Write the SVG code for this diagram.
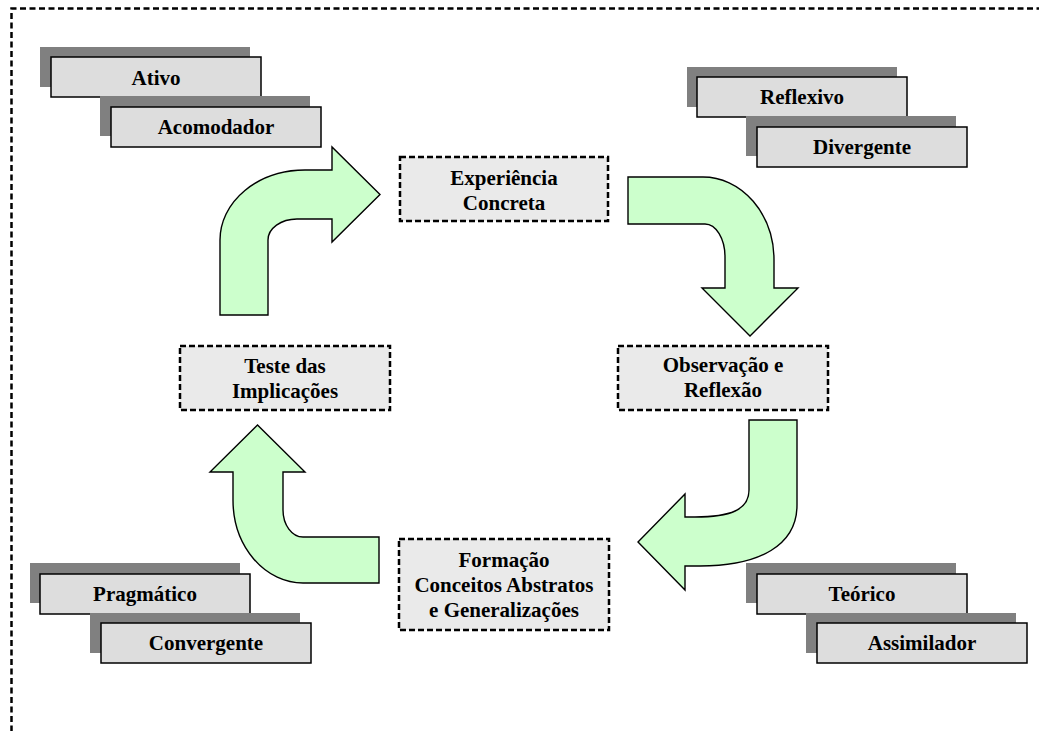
<svg xmlns="http://www.w3.org/2000/svg" width="1039" height="731" viewBox="0 0 1039 731">
<style>
.t{font-family:"Liberation Serif","Times New Roman",serif;font-weight:bold;font-size:21px;fill:#000;text-anchor:middle}
.sh{fill:#808080}
.bx{fill:#dddddd;stroke:#000;stroke-width:1.5}
.nd{fill:#eaeaea;stroke:#000;stroke-width:2.5;stroke-dasharray:6 3}
.ar{fill:#ccffcc;stroke:#000;stroke-width:1.4;stroke-linejoin:miter}
</style>
<rect width="1039" height="731" fill="#fff"/>
<path d="M11.5,760 L11.5,8.5 L1060,8.5" fill="none" stroke="#000" stroke-width="2.5" stroke-dasharray="6 3.5"/>

<g id="style-ativo">
<rect class="sh" x="40" y="47" width="210" height="40"/>
<rect class="bx" x="51" y="57" width="210" height="40"/>
<text class="t" x="156" y="85">Ativo</text>
</g>
<g id="style-acomodador">
<rect class="sh" x="100" y="96" width="210" height="40"/>
<rect class="bx" x="111" y="107" width="210" height="40"/>
<text class="t" x="216" y="134">Acomodador</text>
</g>
<g id="style-reflexivo">
<rect class="sh" x="687" y="67" width="210" height="40"/>
<rect class="bx" x="697" y="77" width="210" height="40"/>
<text class="t" x="802" y="104">Reflexivo</text>
</g>
<g id="style-divergente">
<rect class="sh" x="746" y="116" width="210" height="40"/>
<rect class="bx" x="757" y="127" width="210" height="40"/>
<text class="t" x="862" y="154">Divergente</text>
</g>
<g id="style-pragmatico">
<rect class="sh" x="30" y="563" width="210" height="40"/>
<rect class="bx" x="40" y="574" width="210" height="40"/>
<text class="t" x="145" y="601">Pragmático</text>
</g>
<g id="style-convergente">
<rect class="sh" x="90" y="613" width="210" height="40"/>
<rect class="bx" x="101" y="623" width="210" height="40"/>
<text class="t" x="206" y="650">Convergente</text>
</g>
<g id="style-teorico">
<rect class="sh" x="746" y="563" width="210" height="40"/>
<rect class="bx" x="757" y="574" width="210" height="40"/>
<text class="t" x="862" y="601">Teórico</text>
</g>
<g id="style-assimilador">
<rect class="sh" x="806" y="613" width="210" height="40"/>
<rect class="bx" x="817" y="623" width="210" height="40"/>
<text class="t" x="922" y="650">Assimilador</text>
</g>

<g id="connectors">
<path class="ar" d="M220,315 L220,240 A85,70 0 0 1 305,170 L332,170 L332,147 L380,194.5 L332,242 L332,219 L297,219 A29,21 0 0 0 268,240 L268,315 Z"/>
<path class="ar" d="M628,177 L703,177 A71,83 0 0 1 774,260 L774,288 L798,288 L750,336 L702,288 L725,288 L725,257 A20,33 0 0 0 705,224 L628,224 Z"/>
<path class="ar" d="M749,420 L797,420 L797,505 C797,545 760,566 700,566 L685,566 L685,590 L638,542 L685,494 L685,517 L695,517 C730,517 749,510 749,490 Z"/>
<path class="ar" d="M379,537 L379,583 L303,583 A70,83 0 0 1 233,500 L233,472 L210,472 L257.5,425 L305,472 L283,472 L283,510 A20,27 0 0 0 303,537 Z"/>
</g>

<g id="node-experiencia">
<rect class="nd" x="400" y="157" width="208" height="64"/>
<text class="t" x="504" y="185">Experiência</text>
<text class="t" x="504" y="210">Concreta</text>
</g>
<g id="node-observacao">
<rect class="nd" x="618" y="346" width="210" height="64"/>
<text class="t" x="723" y="372">Observação e</text>
<text class="t" x="723" y="397">Reflexão</text>
</g>
<g id="node-formacao">
<rect class="nd" x="399" y="539" width="210" height="91"/>
<text class="t" x="504" y="567">Formação</text>
<text class="t" x="504" y="592">Conceitos Abstratos</text>
<text class="t" x="504" y="617">e Generalizações</text>
</g>
<g id="node-teste">
<rect class="nd" x="180" y="346" width="210" height="64"/>
<text class="t" x="285" y="373">Teste das</text>
<text class="t" x="285" y="398">Implicações</text>
</g>
</svg>
